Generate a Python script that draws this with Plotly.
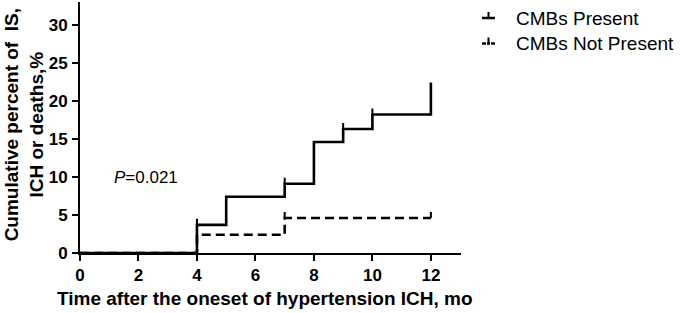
import plotly.graph_objects as go

# Data
present_t = [0, 4, 5, 7, 8, 9, 10, 12]
present_v = [0, 3.7, 7.4, 9.1, 14.6, 16.3, 18.2, 22.4]
present_censor_t = [4, 7, 9, 10]
present_censor_v = [3.7, 9.1, 16.3, 18.2]

absent_t = [0, 4, 7, 12]
absent_v = [0, 2.4, 4.6, 4.6]
absent_censor_t = [7, 12]
absent_censor_v = [4.6, 4.6]

x_ticks = [0, 2, 4, 6, 8, 10, 12]
y_ticks = [0, 5, 10, 15, 20, 25, 30]
series_names = ["CMBs Present", "CMBs Not Present"]

FONT = "Arial, Liberation Sans, sans-serif"
TICK_H = 0.8
LW = 2.6
DASH = "9px,5px"


def censor_xy(ts, vs):
    xs, ys = [], []
    for t, v in zip(ts, vs):
        xs += [t, t, None]
        ys += [v, v + TICK_H, None]
    return xs, ys


fig = go.Figure()
fig.add_trace(go.Scatter(x=absent_t, y=absent_v, mode="lines", line_shape="hv",
                         line=dict(color="black", width=LW, dash=DASH),
                         showlegend=False, cliponaxis=False))
cx, cy = censor_xy(absent_censor_t, absent_censor_v)
fig.add_trace(go.Scatter(x=cx, y=cy, mode="lines", line=dict(color="black", width=2),
                         showlegend=False, cliponaxis=False))
fig.add_trace(go.Scatter(x=present_t, y=present_v, mode="lines", line_shape="hv",
                         line=dict(color="black", width=LW),
                         showlegend=False, cliponaxis=False))
cx, cy = censor_xy(present_censor_t, present_censor_v)
fig.add_trace(go.Scatter(x=cx, y=cy, mode="lines", line=dict(color="black", width=2),
                         showlegend=False, cliponaxis=False))

axis_common = dict(showline=True, linecolor="black", linewidth=2, ticks="outside",
                   ticklen=6, tickwidth=2, tickcolor="black", showgrid=False,
                   zeroline=False,
                   tickfont=dict(family=FONT, size=17, color="black", weight="bold"))

fig.update_layout(
    width=680, height=313,
    margin=dict(l=80, r=219, t=2, b=60),
    paper_bgcolor="white", plot_bgcolor="white",
    xaxis=dict(range=[0, 13.03], tickvals=x_ticks,
               ticktext=[f"<b>{t}</b>" for t in x_ticks], **axis_common),
    yaxis=dict(range=[0, 33], tickvals=y_ticks,
               ticktext=[f"<b>{t}</b>" for t in y_ticks],
               ticklabelstandoff=1, **axis_common),
    showlegend=False,
)

# Axis titles
fig.add_annotation(text="Time after the oneset of hypertension ICH, mo",
                   xref="paper", yref="paper", x=0.486, y=-0.183,
                   xanchor="center", yanchor="middle", showarrow=False,
                   font=dict(family=FONT, size=19, color="black", weight="bold"))
fig.add_annotation(text="Cumulative percent of  IS,<br>ICH or deaths,%",
                   xref="paper", yref="paper", x=-0.146, y=0.51,
                   xanchor="center", yanchor="middle", textangle=-90, showarrow=False,
                   font=dict(family=FONT, size=19, color="black", weight="bold"))

# P value
fig.add_annotation(text="<i>P</i>=0.021", x=1.1, y=9.9, xanchor="left", yanchor="middle",
                   showarrow=False, font=dict(family=FONT, size=17, color="black"))

# Custom legend
px_x = lambda p: (p - 80) / 381.0
px_y = lambda p: (253 - p) / 251.0
for i, name in enumerate(series_names):
    yc = 18 + i * 25.5
    if i == 0:
        fig.add_shape(type="line", xref="paper", yref="paper",
                      x0=px_x(482), x1=px_x(495), y0=px_y(yc), y1=px_y(yc),
                      line=dict(color="black", width=2.5))
    else:
        for a, b in [(482, 486), (487, 490), (491, 495)]:
            fig.add_shape(type="line", xref="paper", yref="paper",
                          x0=px_x(a), x1=px_x(b), y0=px_y(yc), y1=px_y(yc),
                          line=dict(color="black", width=2.5))
    fig.add_shape(type="line", xref="paper", yref="paper",
                  x0=px_x(488.5), x1=px_x(488.5), y0=px_y(yc), y1=px_y(yc - 6),
                  line=dict(color="black", width=2))
    fig.add_annotation(text=name, xref="paper", yref="paper", x=px_x(514), y=px_y(yc),
                       xanchor="left", yanchor="middle", showarrow=False,
                       font=dict(family=FONT, size=19, color="black"))

fig.write_html("out.html", config={"displayModeBar": False},
               post_script="document.body.style.margin='0';document.body.style.overflow='hidden';")
